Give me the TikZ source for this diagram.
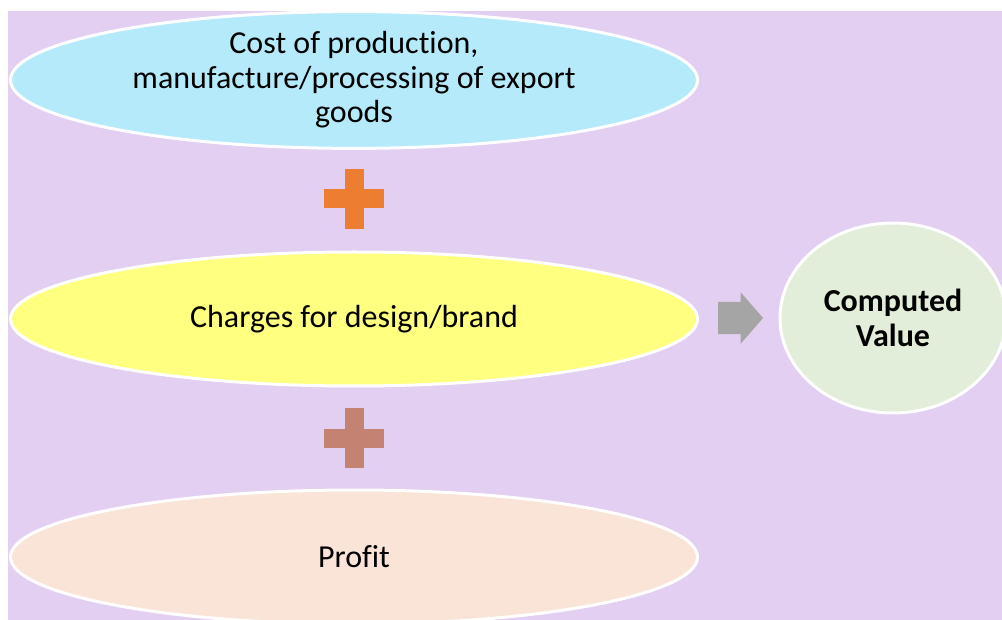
\documentclass[tikz,border=0pt]{standalone}
\usepackage{fontspec}
\setmainfont{Carlito}[Ligatures={NoCommon,NoContextual},Contextuals=NoAlternate]
\usepackage{xcolor}
\usetikzlibrary{shapes.geometric,shapes.arrows}
\definecolor{bgpurple}{HTML}{E2CFF1}
\definecolor{costblue}{HTML}{B5EAFB}
\definecolor{brandyellow}{HTML}{FFFF80}
\definecolor{profitpeach}{HTML}{FAE4D8}
\definecolor{valuegreen}{HTML}{E2EED9}
\definecolor{plusorange}{HTML}{ED7D31}
\definecolor{plusbrown}{HTML}{C48272}
\definecolor{arrowgray}{HTML}{A5A5A5}

\tikzset{
  part/.style={ellipse,draw=white,line width=3pt,inner sep=0pt,
    minimum width=687pt,minimum height=134pt,align=center,
    font=\fontsize{32}{34.5}\selectfont},
  result/.style={ellipse,draw=white,line width=3pt,inner sep=0pt,
    minimum width=226pt,minimum height=190pt,align=center,fill=valuegreen,
    font=\fontsize{32}{35}\selectfont\bfseries},
}
\newcommand{\plussign}[2]{%
  \fill[#2] ([xshift=-30pt,yshift=-9.5pt]#1) rectangle ([xshift=30pt,yshift=9.5pt]#1);
  \fill[#2] ([xshift=-9.5pt,yshift=-30pt]#1) rectangle ([xshift=9.5pt,yshift=30pt]#1);}

\begin{document}
\begin{tikzpicture}[x=1pt,y=-1pt]
  \useasboundingbox (0,0) rectangle (1002,620);
  \fill[white] (0,0) rectangle (1002,620);
  \fill[bgpurple] (8,11) rectangle (1002,620);

  \begin{scope}
    \clip (8,11) rectangle (1002,620);
    \node[part,fill=costblue] (cost) at (354,80)
      {Cost of produc\kern0pt tion,\\manufacture/processing of export\\goods};
    \node[part,fill=brandyellow] (brand) at (354,319) {Charges for design/brand};
    \node[part,fill=profitpeach] (profit) at (354,557) {Prof\kern0pt it};
    \node[result] (value) at (893,318) {Computed\\Value};
  \end{scope}

  % plus signs between the parts
  \coordinate (plusA) at (354,199);
  \coordinate (plusB) at (354,438);
  \plussign{plusA}{plusorange}
  \plussign{plusB}{plusbrown}

  % arrow to the result
  \node[single arrow,fill=arrowgray,inner xsep=0pt,inner ysep=16pt,
    minimum height=45pt,single arrow head extend=9.5pt,
    single arrow tip angle=98] (toval) at (733.5,318) {};
\end{tikzpicture}
\end{document}
